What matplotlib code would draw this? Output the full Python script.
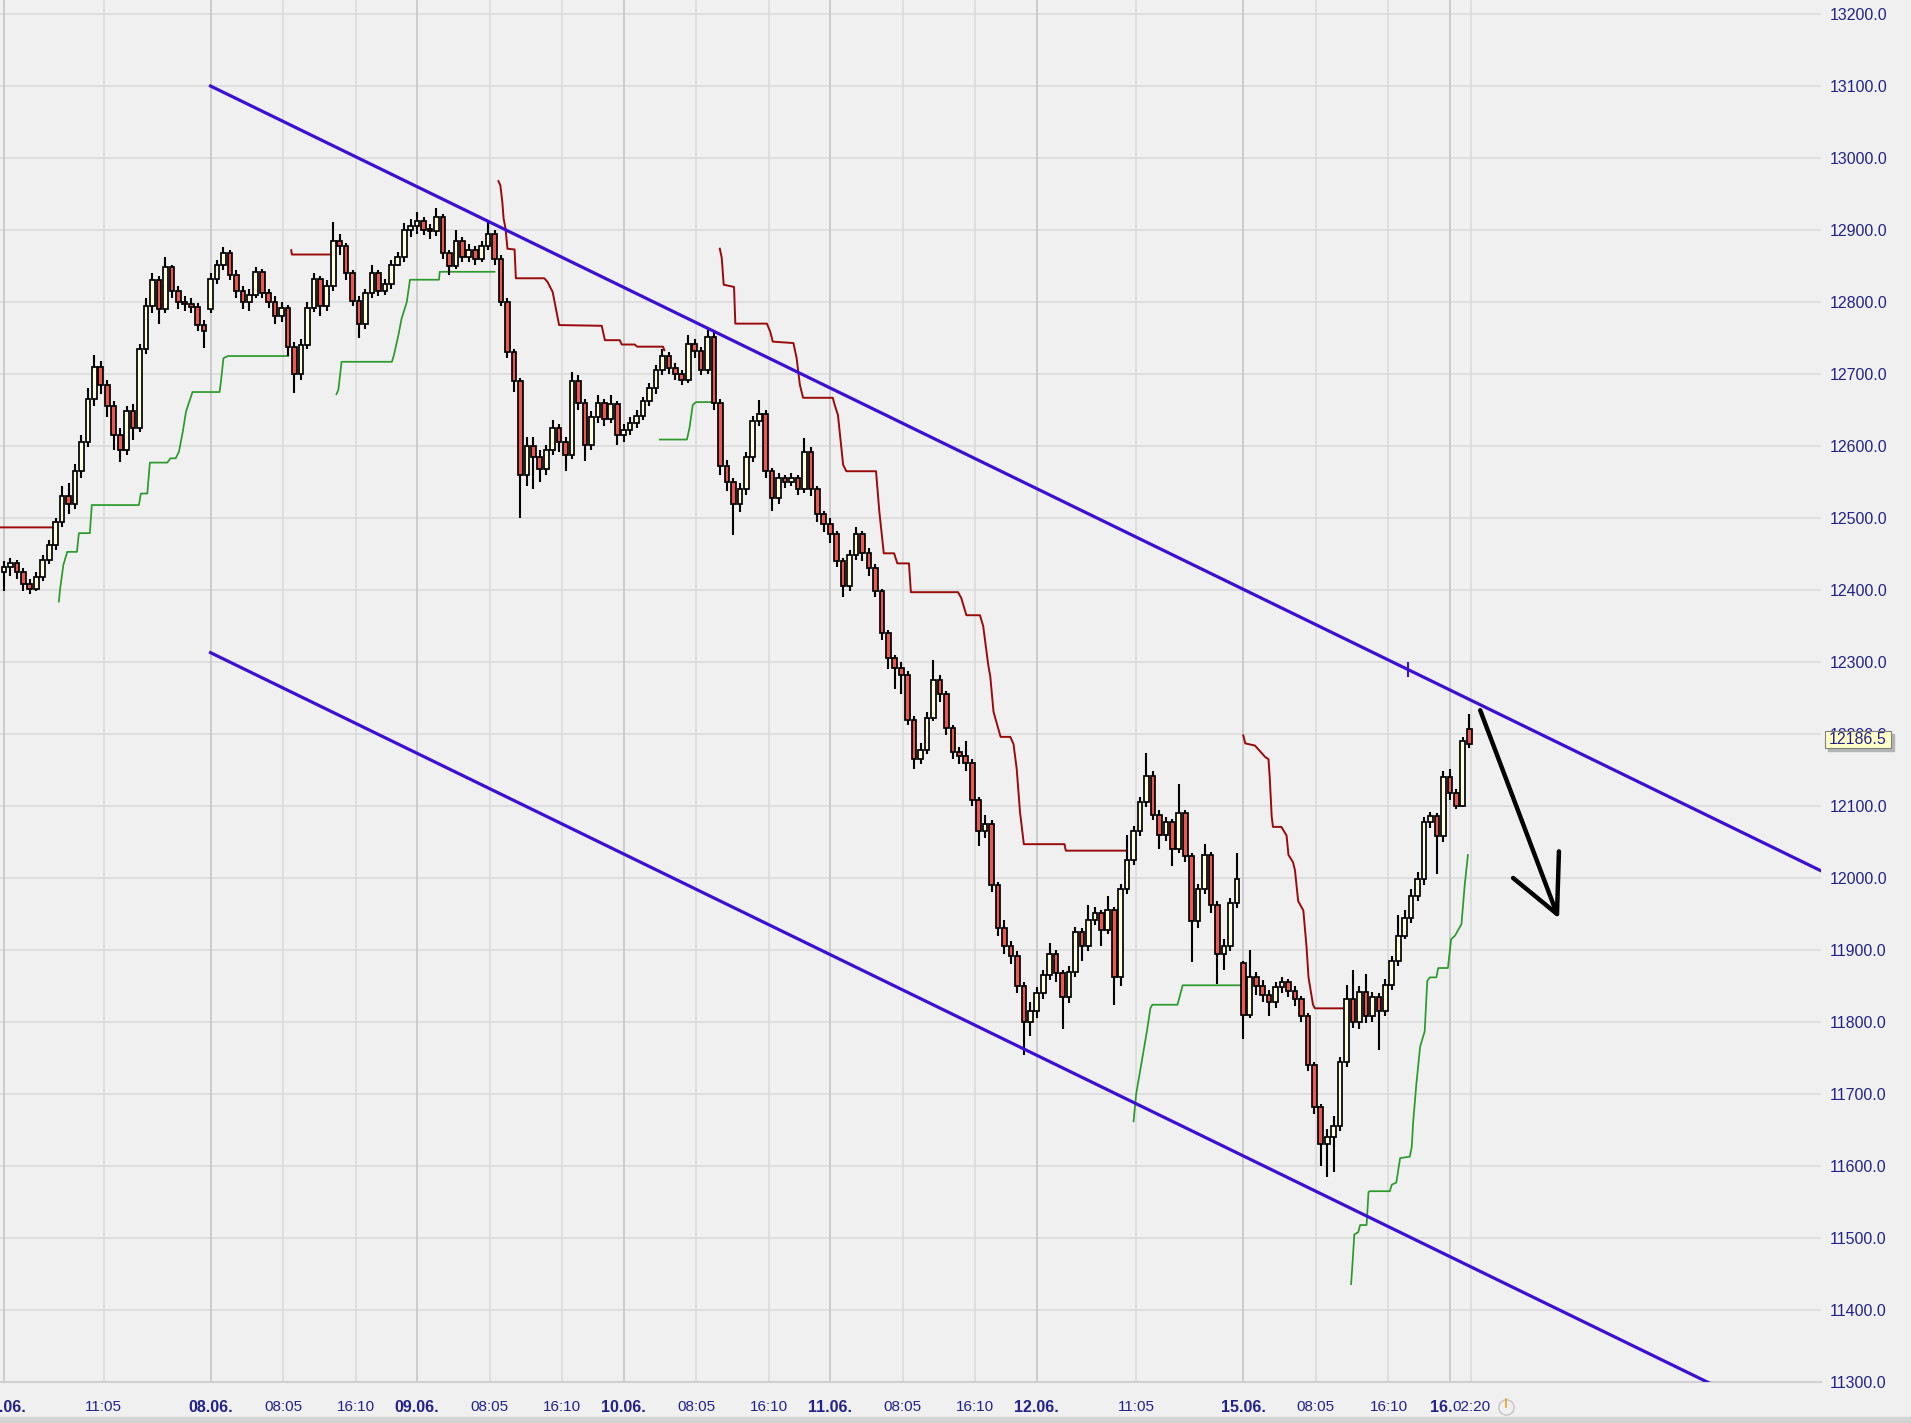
import matplotlib.pyplot as plt
import matplotlib.transforms as mtransforms
import numpy as np
from matplotlib.patches import Rectangle

plt.rcParams["font.family"] = ["Liberation Sans", "DejaVu Sans"]

# bars: 32 bars per trading day, bar 0 = start of 05.06.
opens = [
    12425, 12432, 12438, 12425, 12408, 12402, 12418, 12442, 12462, 12495, 12530, 12520, 12565, 12605, 12665, 12710,
    12685, 12655, 12615, 12595, 12648, 12625, 12735, 12795, 12830, 12790, 12848, 12815, 12800, 12797, 12793, 12768,
    12790, 12832, 12852, 12868, 12838, 12815, 12800, 12810, 12842, 12812, 12800, 12780, 12792, 12738, 12700, 12740,
    12792, 12832, 12795, 12822, 12885, 12878, 12840, 12802, 12770, 12812, 12840, 12815, 12825, 12852, 12862, 12900,
    12905, 12912, 12900, 12898, 12918, 12868, 12850, 12885, 12862, 12872, 12860, 12878, 12895, 12860, 12800, 12730,
    12690, 12560, 12600, 12585, 12568, 12595, 12625, 12605, 12588, 12690, 12660, 12602, 12640, 12660, 12638, 12658,
    12615, 12622, 12632, 12642, 12662, 12680, 12705, 12725, 12708, 12700, 12692, 12742, 12732, 12705, 12752, 12660,
    12572, 12550, 12520, 12540, 12585, 12635, 12645, 12565, 12528, 12555, 12550, 12556, 12540, 12592, 12540, 12505,
    12492, 12478, 12440, 12405, 12448, 12478, 12452, 12430, 12398, 12340, 12305, 12292, 12282, 12220, 12165, 12178,
    12222, 12275, 12255, 12208, 12175, 12170, 12160, 12108, 12065, 12075, 11990, 11930, 11905, 11892, 11850, 11800,
    11815, 11840, 11865, 11895, 11868, 11835, 11870, 11925, 11905, 11942, 11952, 11928, 11955, 11862, 11985, 12025,
    12065, 12105, 12142, 12088, 12060, 12078, 12040, 12090, 12030, 11940, 11985, 12032, 11962, 11895, 11905, 11965,
    11882, 11810, 11862, 11850, 11838, 11828, 11848, 11855, 11843, 11832, 11808, 11740, 11682, 11630, 11640, 11655,
    11745, 11832, 11800, 11842, 11808, 11835, 11815, 11852, 11885, 11920, 11945, 11975, 11998, 12078, 12086, 12058,
    12140, 12118, 12100, 12207,
]
highs = [
    12440, 12445, 12442, 12430, 12415, 12425, 12448, 12470, 12500, 12545, 12548, 12575, 12615, 12680, 12726, 12718,
    12692, 12662, 12625, 12655, 12658, 12742, 12805, 12840, 12836, 12863, 12852, 12822, 12808, 12805, 12798, 12775,
    12840, 12858, 12877, 12872, 12845, 12822, 12818, 12848, 12846, 12818, 12808, 12800, 12796, 12745, 12748, 12800,
    12840, 12836, 12830, 12911, 12895, 12882, 12845, 12808, 12818, 12852, 12845, 12832, 12858, 12870, 12910, 12915,
    12925, 12918, 12908, 12930, 12922, 12872, 12900, 12890, 12880, 12878, 12885, 12914, 12900, 12865, 12805, 12735,
    12695, 12612, 12612, 12595, 12602, 12636, 12630, 12612, 12703, 12698, 12665, 12648, 12671, 12665, 12671, 12662,
    12630, 12640, 12650, 12668, 12688, 12712, 12735, 12730, 12715, 12705, 12754, 12748, 12738, 12766, 12758, 12665,
    12580, 12556, 12548, 12592, 12642, 12664, 12650, 12570, 12562, 12560, 12562, 12560, 12611, 12598, 12545, 12510,
    12500, 12482, 12445, 12455, 12487, 12482, 12458, 12436, 12402, 12345, 12310, 12300, 12288, 12225, 12188, 12230,
    12303, 12282, 12260, 12212, 12182, 12190, 12165, 12112, 12087, 12080, 11995, 11942, 11912, 11898, 11855, 11828,
    11848, 11872, 11910, 11900, 11872, 11878, 11932, 11930, 11963, 11960, 11956, 11975, 11960, 11992, 12060, 12072,
    12112, 12174, 12148, 12094, 12085, 12082, 12131, 12094, 12035, 11992, 12047, 12036, 11968, 11915, 11972, 12035,
    11885, 11900, 11870, 11858, 11845, 11856, 11862, 11860, 11850, 11836, 11812, 11745, 11686, 11652, 11670, 11752,
    11851, 11872, 11850, 11867, 11842, 11840, 11860, 11892, 11948, 11955, 11985, 12008, 12085, 12092, 12090, 12148,
    12152, 12124, 12196, 12228,
]
lows = [
    12398, 12420, 12415, 12398, 12395, 12398, 12412, 12436, 12455, 12488, 12505, 12512, 12555, 12598, 12655, 12672,
    12640, 12595, 12578, 12588, 12608, 12620, 12728, 12785, 12770, 12785, 12805, 12790, 12788, 12785, 12760, 12736,
    12785, 12825, 12845, 12830, 12805, 12790, 12788, 12805, 12805, 12792, 12770, 12772, 12725, 12673, 12692, 12735,
    12786, 12780, 12788, 12815, 12865, 12830, 12795, 12750, 12762, 12805, 12808, 12810, 12818, 12850, 12855, 12890,
    12895, 12893, 12888, 12892, 12860, 12838, 12846, 12855, 12856, 12852, 12855, 12872, 12852, 12795, 12722, 12675,
    12500, 12545, 12540, 12550, 12560, 12588, 12592, 12565, 12582, 12650, 12579, 12595, 12632, 12628, 12632, 12602,
    12605, 12615, 12625, 12636, 12655, 12672, 12698, 12700, 12692, 12685, 12688, 12722, 12698, 12700, 12650, 12560,
    12538, 12477, 12508, 12532, 12578, 12628, 12555, 12510, 12520, 12542, 12545, 12532, 12535, 12530, 12495, 12480,
    12465, 12432, 12390, 12398, 12442, 12440, 12420, 12390, 12330, 12290, 12262, 12255, 12212, 12151, 12158, 12172,
    12218, 12245, 12198, 12165, 12158, 12148, 12100, 12045, 12055, 11980, 11920, 11895, 11880, 11840, 11754, 11780,
    11805, 11832, 11858, 11856, 11790, 11826, 11862, 11885, 11898, 11935, 11905, 11922, 11824, 11850, 11978, 12018,
    12058, 12098, 12080, 12040, 12052, 12017, 12035, 12022, 11883, 11930, 11978, 11952, 11853, 11872, 11898, 11958,
    11777, 11805, 11838, 11828, 11808, 11820, 11840, 11835, 11822, 11800, 11732, 11672, 11600, 11585, 11592, 11648,
    11738, 11792, 11790, 11798, 11800, 11761, 11808, 11845, 11878, 11915, 11938, 11968, 11990, 12070, 12006, 12050,
    12108, 12096, 12098, 12180,
]
closes = [
    12432, 12438, 12425, 12408, 12402, 12418, 12442, 12462, 12495, 12530, 12520, 12565, 12605, 12665, 12710, 12685,
    12655, 12615, 12595, 12648, 12625, 12735, 12795, 12830, 12790, 12848, 12815, 12800, 12797, 12793, 12768, 12760,
    12832, 12852, 12868, 12838, 12815, 12800, 12810, 12842, 12812, 12800, 12780, 12792, 12738, 12700, 12740, 12792,
    12832, 12795, 12822, 12885, 12878, 12840, 12802, 12770, 12812, 12840, 12815, 12825, 12852, 12862, 12900, 12905,
    12912, 12900, 12898, 12918, 12868, 12850, 12885, 12862, 12872, 12860, 12878, 12895, 12860, 12800, 12730, 12690,
    12560, 12600, 12585, 12568, 12595, 12625, 12605, 12588, 12690, 12660, 12602, 12640, 12660, 12638, 12658, 12615,
    12622, 12632, 12642, 12662, 12680, 12705, 12725, 12708, 12700, 12692, 12742, 12732, 12705, 12752, 12660, 12572,
    12550, 12520, 12540, 12585, 12635, 12645, 12565, 12528, 12555, 12550, 12556, 12540, 12592, 12540, 12505, 12492,
    12478, 12440, 12405, 12448, 12478, 12452, 12430, 12398, 12340, 12305, 12292, 12282, 12220, 12165, 12178, 12222,
    12275, 12255, 12208, 12175, 12170, 12160, 12108, 12065, 12075, 11990, 11930, 11905, 11892, 11850, 11800, 11815,
    11840, 11865, 11895, 11868, 11835, 11870, 11925, 11905, 11942, 11952, 11928, 11955, 11862, 11985, 12025, 12065,
    12105, 12142, 12088, 12060, 12078, 12040, 12090, 12030, 11940, 11985, 12032, 11962, 11895, 11905, 11965, 11998,
    11810, 11862, 11850, 11838, 11828, 11848, 11855, 11843, 11832, 11808, 11740, 11682, 11630, 11640, 11655, 11745,
    11832, 11800, 11842, 11808, 11835, 11815, 11852, 11885, 11920, 11945, 11975, 11998, 12078, 12086, 12058, 12140,
    12118, 12100, 12190, 12186.5,
]
last_price = 12186.5

nan = np.nan
# upper (dark red) and lower (green) trailing step lines, segments split by nan
red_x = [-1, 8.2, nan, 44.5, 44.6, 51.3, nan,
         76.6, 76.9, 77.2, 77.4, 77.7, 78.0, 79.1, 79.3, 83.7, 84.2, 85.0, 86.0, 92.6, 93.1, 95.4, 95.7, 97.7,
         98.1, 102.1, 102.3, nan,
         110.9, 111.2, 111.5, 113.1, 113.3, 118.2, 118.7, 119.1, 122.3, 122.8, 123.3, 123.8, 128.4, 128.7, 129.2,
         130.0, 130.5, 135.1, 135.6, 136.3, 137.9, 138.4, 140.2, 140.5, 147.8, 148.3, 149.1, 151.2, 151.7, 152.5,
         152.8, 153.3, 154.4, 155.9, 156.4, 156.9, 157.4, 158.0, 164.3, 164.5, 173.7, nan,
         192.0, 192.3, 193.8, 194.3, 195.4, 195.9, 196.1, 196.4, 196.6, 197.9, 198.7, 199.0, 199.7, 200.0, 200.5,
         201.3, 201.8, 202.1, 202.8, 203.1, 208.0]
red_y = [12487, 12487, nan, 12872, 12866, 12866, nan,
         12968, 12962, 12939, 12916, 12902, 12874, 12873, 12833, 12833, 12828, 12814, 12768, 12767, 12747, 12747,
         12741, 12741, 12738, 12738, 12733, nan,
         12874, 12861, 12824, 12821, 12770, 12770, 12759, 12745, 12743, 12722, 12685, 12667, 12667, 12657, 12643,
         12574, 12565, 12565, 12510, 12451, 12451, 12437, 12437, 12397, 12397, 12389, 12365, 12365, 12350, 12295,
         12280, 12231, 12196, 12196, 12186, 12151, 12092, 12047, 12047, 12038, 12038, nan,
         12198, 12187, 12184, 12179, 12168, 12165, 12139, 12085, 12071, 12071, 12059, 12032, 12022, 12011, 11968,
         11955, 11904, 11862, 11824, 11819, 11819]
green_x = [8.5, 8.7, 9.2, 9.8, 11.3, 11.6, 13.3, 13.6, 20.9, 21.2, 22.2, 22.6, 25.3, 25.8, 26.6, 27.1, 27.7, 28.2,
           29.2, 33.4, 33.6, 34.0, 34.7, 44.0, nan,
           51.5, 51.8, 52.3, 60.1, 60.4, 61.1, 61.6, 62.4, 62.9, 67.4, 67.5, 76.0, nan,
           101.6, 105.8, 106.2, 106.7, 107.2, 110.3, nan,
           175.0, 175.4, 176.3, 177.1, 177.6, 177.9, 181.8, 182.1, 182.6, 191.7, nan,
           208.7, 208.9, 209.2, 209.8, 210.1, 211.1, 211.4, 211.6, 214.7, 215.0, 215.7, 216.3, 217.8, 218.1, 218.3,
           218.8, 219.4, 220.1, 220.5, 220.9, 221.9, 222.2, 223.7, 224.2, 224.8, 225.8, 226.3, 226.8]
green_y = [12384, 12402, 12435, 12453, 12453, 12479, 12479, 12518, 12518, 12534, 12534, 12577, 12577, 12583, 12583,
           12592, 12620, 12648, 12675, 12675, 12689, 12722, 12725, 12725, nan,
           12672, 12678, 12717, 12717, 12726, 12754, 12777, 12800, 12831, 12831, 12842, 12842, nan,
           12609, 12609, 12625, 12657, 12661, 12661, nan,
           11662, 11700, 11747, 11789, 11819, 11824, 11824, 11834, 11851, 11851, nan,
           11436, 11462, 11505, 11508, 11518, 11518, 11564, 11565, 11565, 11574, 11577, 11611, 11613, 11627, 11659,
           11713, 11766, 11787, 11857, 11862, 11862, 11875, 11875, 11915, 11920, 11936, 11990, 12032]

# hand-drawn trend channel and arrow
channel_x = [32, 281.5]
channel_upper = [13100, 12010]
channel_lower = [12313, 11223]
channel_mark_x = 217.5
arrow_shaft_x = [228.7, 240.6]
arrow_shaft_y = [12233, 11950]
arrow_head_x = [233.8, 240.6, 240.9]
arrow_head_y = [12000, 11950, 12037]

# x axis labels
day_labels = ["05.06.", "08.06.", "09.06.", "10.06.", "11.06.", "12.06.", "15.06.", "16."]
time_labels = ["11:05", "08:05", "16:10", "08:05", "16:10", "08:05", "16:10", "08:05", "16:10",
               "11:05", "08:05", "16:10", "02:20"]
time_label_days = [0, 1, 1, 2, 2, 3, 3, 4, 4, 5, 6, 6, 7]

BARS_PER_DAY = 32
MIN_PER_BAR = 23 * 60 / BARS_PER_DAY
BG = "#f0f0f0"
GRID = "#d9d9d9"
DAYGRID = "#c2c2c2"
TXT = "#22228a"
W, H = 1911, 1423

fig = plt.figure(figsize=(W / 100, H / 100), dpi=100, facecolor=BG)
ax = fig.add_axes([0, 41 / H, 1821 / W, 1382 / H])
ax.set_facecolor(BG)
ax.set_xlim(-0.62, 281.5)
ax.set_ylim(11300, 13219.5)

# grid
ax.set_axisbelow(True)
for yv in np.arange(11300, 13201, 100):
    ax.axhline(yv, color=GRID, lw=1.1, zorder=0.5)
day_pos = [i * BARS_PER_DAY for i in range(len(day_labels))]
time_pos = []
for d, t in zip(time_label_days, time_labels):
    hh, mm = t.split(":")
    time_pos.append(d * BARS_PER_DAY + (int(hh) * 60 + int(mm)) / MIN_PER_BAR)
for xp in time_pos:
    ax.axvline(xp, color=GRID, lw=1.1, zorder=0.5)
for xp in day_pos:
    ax.axvline(xp, color=DAYGRID, lw=1.1, zorder=0.6)

# step lines
ax.plot(red_x, red_y, color="#9a0a0a", lw=1.4, zorder=2)
ax.plot(green_x, green_y, color="#2a9a2a", lw=1.25, zorder=2)

# candles
o = np.array(opens, dtype=float)
h = np.array(highs, dtype=float)
l = np.array(lows, dtype=float)
c = np.array(closes, dtype=float)
x = np.arange(len(c))
body_col = np.where(c >= o, "#ffffe0", "#e65a52")
ax.vlines(x, l, h, color="black", lw=1.5, zorder=3)
ax.bar(x, np.maximum(np.abs(c - o), 3), 0.72, bottom=np.minimum(o, c),
       color=body_col, edgecolor="black", linewidth=1.25, zorder=4)

# channel + arrow
ax.plot(channel_x, channel_upper, color="#3b10d4", lw=2.3, zorder=5)
ax.plot(channel_x, channel_lower, color="#3b10d4", lw=2.3, zorder=5)
mark_y = np.interp(channel_mark_x, channel_x, channel_upper)
ax.plot([channel_mark_x, channel_mark_x], [mark_y - 9, mark_y + 9], color="#3b10d4", lw=1.5, zorder=5)
ax.plot(arrow_shaft_x, arrow_shaft_y, color="black", lw=3.2, solid_capstyle="round", zorder=6)
ax.plot(arrow_head_x, arrow_head_y, color="black", lw=3.2, solid_capstyle="round",
        solid_joinstyle="round", zorder=6)

# y axis on the right
ax.yaxis.tick_right()
yt = np.arange(11300, 13201, 100)
ax.set_yticks(yt)
ax.set_yticklabels([f"{v:.1f}" for v in yt])
ax.tick_params(axis="y", length=0, pad=6.5, labelsize=11.5, labelcolor=TXT)
ax.set_xticks([])
for side in ["top", "left", "right"]:
    ax.spines[side].set_visible(False)
ax.spines["bottom"].set_color("#d0d0d0")
ax.spines["bottom"].set_linewidth(1.5)

# x labels
trans = mtransforms.blended_transform_factory(ax.transData, ax.transAxes)
lab_y = -25 / 1382
for xp, lab in zip(day_pos, day_labels):
    ha = "right" if lab == "16." else "center"
    ax.text(xp + (0.4 if ha == "right" else 0), lab_y, lab, transform=trans, ha=ha, va="center",
            fontsize=11.5, fontweight="bold", color=TXT)
for xp, lab, d in zip(time_pos, time_labels, time_label_days):
    if lab == "02:20":
        ax.text(d * BARS_PER_DAY + 0.4, lab_y, lab, transform=trans, ha="left", va="center",
                fontsize=11, color=TXT)
    else:
        ax.text(xp, lab_y, lab, transform=trans, ha="center", va="center", fontsize=11, color=TXT)
clock_x = 232.7
ax.plot([clock_x], [lab_y], marker="o", ms=11, mfc="none", mec="#c4c4c4", mew=1.0,
        transform=trans, clip_on=False)
ax.plot([clock_x, clock_x], [lab_y, lab_y + 0.006], color="#f0a020", lw=1.2,
        transform=trans, clip_on=False)

# bottom strip
fig.add_artist(Rectangle((0, 0), 1, 6 / H, transform=fig.transFigure, color="#d3d3d3", zorder=1))

# last price tag
bx, by, bw, bh = 1825, 731, 66, 17
fig.add_artist(Rectangle(((bx + 3) / W, 1 - (by + bh + 3) / H), bw / W, bh / H,
                         transform=fig.transFigure, color="#b4b4b4", zorder=2))
fig.add_artist(Rectangle((bx / W, 1 - (by + bh) / H), bw / W, bh / H, transform=fig.transFigure,
                         facecolor="#ffffc8", edgecolor="#808080", lw=0.8, zorder=3))
fig.text((bx + bw / 2) / W, 1 - (by + bh / 2) / H, f"{last_price:.1f}", ha="center", va="center",
         fontsize=11.5, color=TXT, zorder=4)

fig.savefig("out.png", dpi=100, facecolor=BG)
